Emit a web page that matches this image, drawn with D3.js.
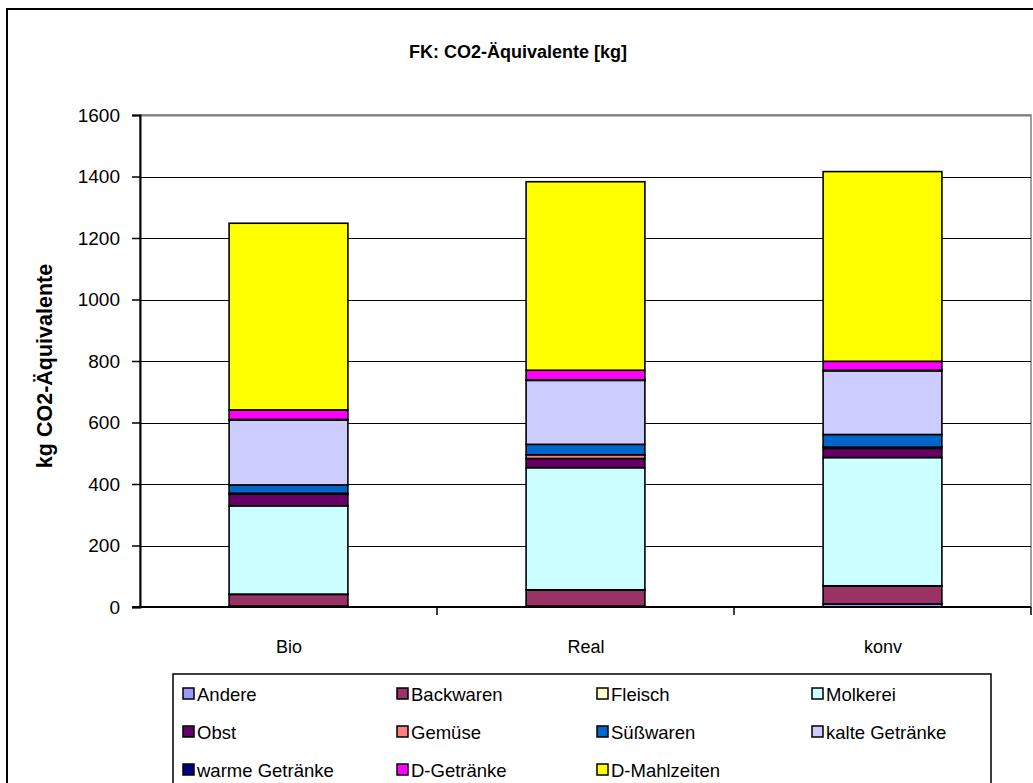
<!DOCTYPE html>
<html>
<head>
<meta charset="utf-8">
<script src="https://cdn.jsdelivr.net/npm/d3@7"></script>
<style>
  html, body { margin: 0; padding: 0; background: #fff; }
  svg { display: block; font-family: Arial, "Liberation Sans", sans-serif; }
</style>
</head>
<body>
<svg id="chart" width="1033" height="783"></svg>
<script>
const categories = ["Bio", "Real", "konv"];
const seriesNames = ["Andere", "Backwaren", "Fleisch", "Molkerei", "Obst", "Gemüse", "Süßwaren", "kalte Getränke", "warme Getränke", "D-Getränke", "D-Mahlzeiten"];
const seriesColors = ["#9999FF", "#993366", "#FFFFCC", "#CCFFFF", "#660066", "#FF8080", "#0066CC", "#CCCCFF", "#000080", "#FF00FF", "#FFFF00"];
const andere       = [3, 3, 10];
const backwaren    = [38, 52, 58];
const fleisch      = [1, 1, 1];
const molkerei     = [287, 397, 417];
const obst         = [38, 30, 30];
const gemuese      = [3, 12, 4];
const suesswaren   = [27, 34, 41];
const kalteGetr    = [211, 208, 207];
const warmeGetr    = [2, 2, 2];
const dGetraenke   = [31, 31, 29];
const dMahlzeiten  = [607, 613, 617];
const yTicks = [0, 200, 400, 600, 800, 1000, 1200, 1400, 1600];
const titleText = "FK: CO2-Äquivalente [kg]";
const yLabel = "kg CO2-Äquivalente";

const seriesValues = [andere, backwaren, fleisch, molkerei, obst, gemuese, suesswaren, kalteGetr, warmeGetr, dGetraenke, dMahlzeiten];
const table = categories.map((c, i) => {
  const row = { cat: c };
  seriesNames.forEach((s, j) => row[s] = seriesValues[j][i]);
  return row;
});

const svg = d3.select("#chart");
const plot = { left: 140, right: 1031, top: 115, bottom: 607 };
const FONT = "Arial, 'Liberation Sans', sans-serif";

// outer chart border
svg.append("rect").attr("x", 7).attr("y", 9).attr("width", 1040).attr("height", 800)
  .attr("fill", "#fff").attr("stroke", "#000").attr("stroke-width", 2);

const x = d3.scaleBand().domain(categories).range([plot.left, plot.right]).paddingInner(0.6).paddingOuter(0.3);
const y = d3.scaleLinear().domain([0, 1600]).range([plot.bottom, plot.top]);

// plot area border (gray)
svg.append("rect").attr("x", plot.left).attr("y", plot.top)
  .attr("width", plot.right - plot.left).attr("height", plot.bottom - plot.top)
  .attr("fill", "none").attr("stroke", "#808080").attr("stroke-width", 1.5);

// gridlines
svg.append("g").selectAll("line").data(yTicks.filter(t => t > 0)).join("line")
  .attr("x1", plot.left).attr("x2", plot.right)
  .attr("y1", d => Math.round(y(d)) + 0.5).attr("y2", d => Math.round(y(d)) + 0.5)
  .attr("stroke", d => d === 1600 ? "#808080" : "#000").attr("stroke-width", d => d === 1600 ? 2 : 1);

// stacked bars
const stack = d3.stack().keys(seriesNames)(table);
const gBars = svg.append("g");
stack.forEach((layer, j) => {
  gBars.append("g").selectAll("rect").data(layer).join("rect")
    .attr("x", d => x(d.data.cat))
    .attr("width", x.bandwidth())
    .attr("y", d => y(d[1]))
    .attr("height", d => y(d[0]) - y(d[1]))
    .attr("fill", seriesColors[j])
    .attr("stroke", "#000").attr("stroke-width", 1.6);
});

// y axis
const yAxis = d3.axisLeft(y).tickValues(yTicks).tickSize(8).tickPadding(12).tickFormat(d3.format("d"));
const gy = svg.append("g").attr("transform", `translate(${plot.left},0)`).call(yAxis);
gy.select(".domain").attr("stroke", "#000").attr("stroke-width", 2);
gy.selectAll(".tick line").attr("stroke", "#000").attr("stroke-width", 1.5);
gy.selectAll("text").attr("font-size", 19).attr("fill", "#000").attr("font-family", FONT);

// x axis
const xAxisScale = d3.scalePoint().domain(categories).range([plot.left + (plot.right - plot.left) / 6, plot.right - (plot.right - plot.left) / 6]);
const xAxis = d3.axisBottom(xAxisScale).tickSize(0).tickPadding(33);
const gx = svg.append("g").attr("transform", `translate(0,${plot.bottom})`).call(xAxis);
gx.select(".domain").remove();
gx.selectAll("text").attr("font-size", 18).attr("fill", "#000").attr("font-family", FONT);
svg.append("line").attr("x1", plot.left - 8).attr("x2", plot.right).attr("y1", plot.bottom).attr("y2", plot.bottom)
  .attr("stroke", "#000").attr("stroke-width", 2);
const sepX = categories.map((c, i) => plot.left + (i + 1) * (plot.right - plot.left) / categories.length);
svg.append("g").selectAll("line").data(sepX).join("line")
  .attr("x1", d => d).attr("x2", d => d).attr("y1", plot.bottom).attr("y2", plot.bottom + 8)
  .attr("stroke", "#000").attr("stroke-width", 1.5);

// title
svg.append("text").attr("x", 518).attr("y", 58).attr("text-anchor", "middle")
  .attr("font-size", 18).attr("font-weight", "bold").text(titleText);

// y label
svg.append("text").attr("transform", "translate(52,366) rotate(-90)").attr("text-anchor", "middle")
  .attr("font-size", 21.5).attr("font-weight", "bold").text(yLabel);

// legend
const legend = svg.append("g");
legend.append("rect").attr("x", 173).attr("y", 674).attr("width", 818).attr("height", 130)
  .attr("fill", "#fff").attr("stroke", "#000").attr("stroke-width", 1.5);
const colX = [183, 397, 597, 812];
const rowY = [694, 732, 770];
seriesNames.forEach((s, i) => {
  const cx = colX[i % 4], cy = rowY[Math.floor(i / 4)];
  legend.append("rect").attr("x", cx).attr("y", cy - 6).attr("width", 11).attr("height", 11)
    .attr("fill", seriesColors[i]).attr("stroke", "#000").attr("stroke-width", 1.5);
  legend.append("text").attr("x", cx + 14).attr("y", cy + 7).attr("font-size", 18.5).text(s);
});
</script>
</body>
</html>
